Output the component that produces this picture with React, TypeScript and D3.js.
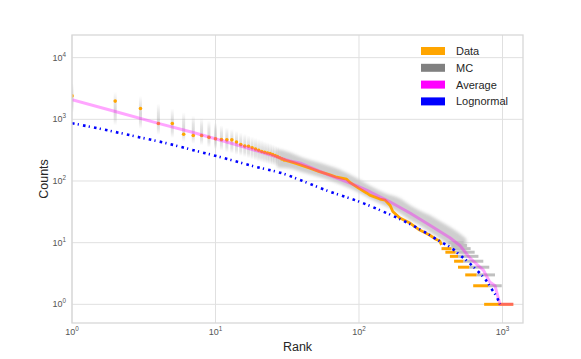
import React from 'react';
import * as d3 from 'd3';

const W = 581, H = 359;
const M = { l: 72, r: 523, t: 35, b: 323 };

const X_TICKS = [1, 10, 100, 1000];
const Y_TICKS = [1, 10, 100, 1000, 10000];

// Data: one marker per rank for the top ranks
const DATA_RANKS = [1, 2, 3, 4, 5, 6, 7, 8, 9, 10, 11, 12, 13, 14, 15, 16, 17, 18, 19, 20, 21, 22, 23, 24, 25, 26, 27, 28, 29, 30];
const DATA_COUNTS = [2400, 1975, 1500, 855, 855, 574, 546, 546, 510, 485, 472, 465, 465, 430, 390, 370, 365, 345, 330, 315, 300, 292, 285, 278, 268, 258, 248, 238, 228, 220];
// Data: dense middle part
const DATA_LINE_RANKS = [30, 35, 39, 45, 53, 62, 70, 82, 87, 100, 113, 119, 140, 152, 165, 172, 193, 228, 265, 310, 340, 366, 376];
const DATA_LINE_COUNTS = [220, 198, 183, 163, 142, 127, 115, 107, 94, 76, 64, 59, 51, 49, 40, 32, 25, 20.6, 16, 13.3, 11.5, 10.6, 9.2];
// Data: tied counts in the tail
const DATA_TIE_COUNTS = [8, 7, 6, 5, 4, 3, 2, 1];
const DATA_TIE_FROM = [376, 400, 430, 460, 490, 550, 625, 745];
const DATA_TIE_TO = [440, 470, 490, 533, 585, 660, 795, 1190];

// MC realisations: spread per rank
const MC_RANKS = [1, 2, 3, 4, 5, 6, 7, 8, 9, 10, 11, 12, 13, 14, 15, 16, 17, 18, 19, 20, 21, 22, 23, 24, 25, 26, 27];
const MC_HI = [3800, 2800, 2400, 1800, 1500, 1300, 1150, 1050, 950, 880, 800, 740, 700, 650, 610, 580, 550, 520, 500, 480, 460, 440, 425, 410, 395, 380, 365];
const MC_LO = [1300, 800, 700, 560, 500, 430, 400, 380, 350, 330, 310, 290, 280, 265, 255, 245, 235, 225, 215, 205, 200, 195, 190, 185, 180, 175, 170];
const MC_BAND_RANKS = [27, 33, 40, 56, 75, 96, 119, 150, 193, 228, 266, 310, 370, 430, 505, 560];
const MC_BAND_LO = [165, 160, 140, 112, 88, 68, 52, 40, 30, 23, 19, 15, 11.5, 9, 7, 6];
const MC_BAND_HI = [330, 290, 240, 190, 150, 112, 84, 64, 52, 40, 33, 28, 22, 18, 14, 11.5];
const MC_TIE_COUNTS = [10, 9, 8, 7, 6, 5, 4, 3, 2];
const MC_TIE_FROM = [420, 440, 440, 470, 490, 533, 585, 660, 795];
const MC_TIE_TO = [535, 565, 600, 640, 680, 735, 809, 887, 988];

// MC average
const AVG_RANKS = [1, 2, 4, 7, 15, 33, 39, 60, 96, 119, 164, 228, 310, 430, 505, 594, 735, 815, 888, 960, 1190];
const AVG_COUNTS = [2075, 1340, 860, 610, 370, 212, 194, 128, 84, 67, 46, 30, 19.3, 12, 9, 5.6, 3.6, 2.3, 2.0, 1.0, 1.0];

// Lognormal fit
const LOGN_RANKS = [1, 1.575, 2.93, 4.53, 7, 10.75, 18.3, 31.3, 36.5, 62.8, 101, 147, 201, 278, 380, 441, 505, 580, 661, 763, 850, 914, 960];
const LOGN_COUNTS = [865, 701, 514, 411, 316, 245, 174, 126, 110, 67, 46, 32, 23, 15.5, 10, 8.2, 6.3, 4.8, 3.6, 2.5, 1.7, 1.3, 1.0];

const LEGEND_LABELS = ['Data', 'MC', 'Average', 'Lognormal'];
const LEGEND_COLORS = ['#ffa500', '#808080', '#ff00ff', '#0000ff'];

const FONT = '"Liberation Sans", Arial, sans-serif';

function Pow10({ x, y, exp, anchor }: { x: number; y: number; exp: number; anchor: string }) {
  return (
    <text x={x} y={y} textAnchor={anchor} fontSize={9} fill="#555" fontFamily={FONT}>
      10<tspan fontSize={6.3} dy={-4}>{exp}</tspan>
    </text>
  );
}

export default function App() {
  const x = d3.scaleLog().domain([1, 1390]).range([M.l, M.r]);
  const y = d3.scaleLog().domain([0.498, 23300]).range([M.b, M.t]);

  const line = d3.line<[number, number]>().x(d => x(d[0])).y(d => y(d[1]));
  const zip = (a: number[], b: number[]) => a.map((v, i) => [v, b[i]] as [number, number]);

  const band = d3.area<number>()
    .x((_, i) => x(MC_BAND_RANKS[i]))
    .y0((_, i) => y(MC_BAND_LO[i]))
    .y1((_, i) => y(MC_BAND_HI[i]))
    .curve(d3.curveMonotoneX);

  return (
    <svg width={W} height={H} style={{ position: 'absolute', left: 0, top: 0, background: '#fff' }}>
      <defs>
        <clipPath id="plot">
          <rect x={M.l} y={M.t} width={M.r - M.l} height={M.b - M.t} />
        </clipPath>
        <linearGradient id="smear" x1="0" y1="0" x2="0" y2="1">
          <stop offset="0" stopColor="#999" stopOpacity={0} />
          <stop offset="0.3" stopColor="#999" stopOpacity={0.26} />
          <stop offset="0.55" stopColor="#999" stopOpacity={0.38} />
          <stop offset="0.8" stopColor="#999" stopOpacity={0.26} />
          <stop offset="1" stopColor="#999" stopOpacity={0} />
        </linearGradient>
        <filter id="soft" x="-5%" y="-10%" width="110%" height="120%">
          <feGaussianBlur stdDeviation="1.5" />
        </filter>
      </defs>

      {/* grid */}
      {X_TICKS.map(t => (
        <line key={'gx' + t} x1={x(t)} x2={x(t)} y1={M.t} y2={M.b} stroke="#e0e0e0" strokeWidth={1} />
      ))}
      {Y_TICKS.map(t => (
        <line key={'gy' + t} x1={M.l} x2={M.r} y1={y(t)} y2={y(t)} stroke="#e0e0e0" strokeWidth={1} />
      ))}

      <g clipPath="url(#plot)">
        {/* MC */}
        {MC_RANKS.map((r, i) => (
          <rect key={'mc' + r} x={x(r) - 1.5} width={3} y={y(MC_HI[i])} height={y(MC_LO[i]) - y(MC_HI[i])} fill="url(#smear)" />
        ))}
        <path d={band(MC_BAND_RANKS) || ''} fill="#c2c2c2" opacity={0.8} filter="url(#soft)" />
        {MC_TIE_COUNTS.map((c, i) => (
          <line key={'mt' + c} x1={x(MC_TIE_FROM[i])} x2={x(MC_TIE_TO[i])} y1={y(c)} y2={y(c)} stroke="#c0c0c0" strokeWidth={3} />
        ))}

        {/* Data */}
        {DATA_RANKS.map((r, i) => (
          <circle key={'d' + r} cx={x(r)} cy={y(DATA_COUNTS[i])} r={1.8} fill="#ffa500" />
        ))}
        <path d={line(zip(DATA_LINE_RANKS, DATA_LINE_COUNTS)) || ''} fill="none" stroke="#ffa500" strokeWidth={2.8} strokeLinejoin="round" />
        {DATA_TIE_COUNTS.map((c, i) => (
          <line key={'dt' + c} x1={x(DATA_TIE_FROM[i])} x2={x(DATA_TIE_TO[i])} y1={y(c)} y2={y(c)} stroke="#ffa500" strokeWidth={3} />
        ))}

        {/* Average */}
        <path d={line(zip(AVG_RANKS, AVG_COUNTS)) || ''} fill="none" stroke="#ff00ff" strokeOpacity={0.35} strokeWidth={3} strokeLinejoin="round" />

        {/* Lognormal */}
        <path d={line.curve(d3.curveMonotoneX)(zip(LOGN_RANKS, LOGN_COUNTS)) || ''} fill="none" stroke="#0000ff" strokeWidth={2.6} strokeDasharray="2.6,3.2,1.2,4.2" />
      </g>

      {/* frame */}
      <rect x={M.l} y={M.t} width={M.r - M.l} height={M.b - M.t} fill="none" stroke="#d8d8d8" strokeWidth={1.3} />

      {/* ticks */}
      {X_TICKS.map(t => (
        <Pow10 key={'tx' + t} x={x(t)} y={M.b + 12} exp={Math.round(Math.log10(t))} anchor="middle" />
      ))}
      {Y_TICKS.map(t => (
        <Pow10 key={'ty' + t} x={M.l - 6} y={y(t) + 3} exp={Math.round(Math.log10(t))} anchor="end" />
      ))}

      <text x={(M.l + M.r) / 2} y={351} textAnchor="middle" fontSize={12.5} fill="#262626" fontFamily={FONT}>Rank</text>
      <text transform={`translate(48,${(M.t + M.b) / 2}) rotate(-90)`} textAnchor="middle" fontSize={12.5} fill="#262626" fontFamily={FONT}>Counts</text>

      {/* legend */}
      {LEGEND_LABELS.map((lab, i) => (
        <g key={lab} transform={`translate(421,${51 + i * 16.8})`}>
          <rect x={0} y={-4} width={24} height={8} fill={LEGEND_COLORS[i]} />
          <text x={35} y={4} fontSize={11} fill="#262626" fontFamily={FONT}>{lab}</text>
        </g>
      ))}
    </svg>
  );
}
